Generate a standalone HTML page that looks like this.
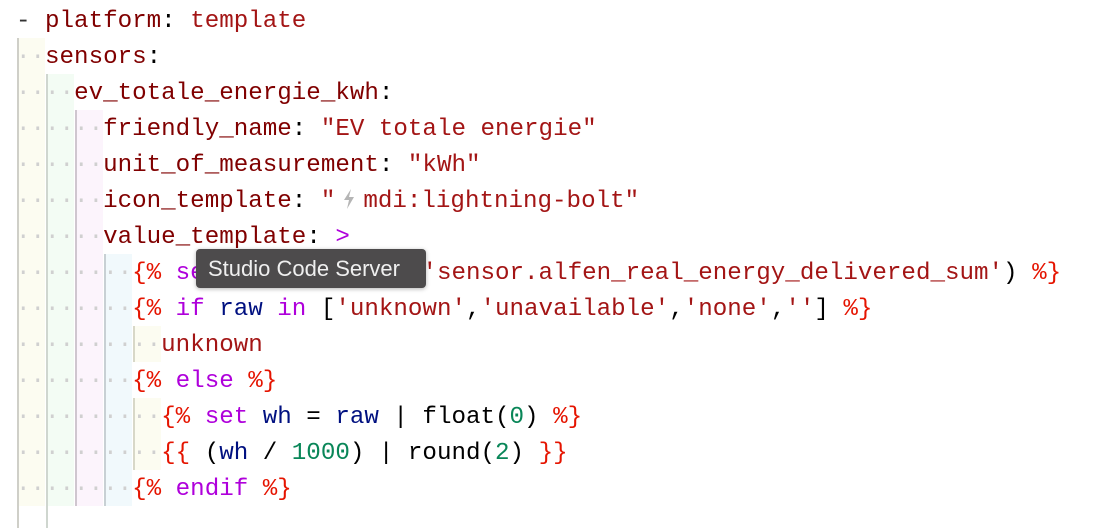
<!DOCTYPE html>
<html><head><meta charset="utf-8"><style>
html,body{margin:0;padding:0;background:#fff;width:1118px;height:528px;overflow:hidden;position:relative}
.b{position:absolute}
.g{position:absolute;width:1px;background:#d4d4d4}
.ln{position:absolute;left:16px;height:36px;line-height:36px;font-family:"Liberation Mono",monospace;font-size:24.2px;white-space:pre;color:#000}
.d{color:#d0d0d0}
.k{color:#800000}.s{color:#a31515}.j{color:#e51400}.w{color:#af00db}.v{color:#001080}.n{color:#098658}
.tip{position:absolute;left:196px;top:249px;width:230px;height:39px;background:#4d4b4c;border-radius:4px;color:#efefef;font-family:"Liberation Sans",sans-serif;font-size:22px;line-height:39px;padding-left:12px;box-sizing:border-box;box-shadow:0 1px 4px rgba(0,0,0,.3)}
</style></head><body>
<div class="b" style="left:17px;top:38px;width:28px;height:468px;background:#fcfcf1"></div>
<div class="b" style="left:46px;top:74px;width:28px;height:432px;background:#f3fcf4"></div>
<div class="b" style="left:75px;top:110px;width:28px;height:396px;background:#fcf4fc"></div>
<div class="b" style="left:104px;top:254px;width:28px;height:252px;background:#f1f9fc"></div>
<div class="b" style="left:133px;top:326px;width:28px;height:36px;background:#fcfcf1"></div>
<div class="b" style="left:133px;top:398px;width:28px;height:72px;background:#fcfcf1"></div>
<div class="g" style="left:17px;top:38px;height:490px;width:2px;background:#cfcfc8"></div>
<div class="g" style="left:46px;top:74px;height:454px;width:2px;background:#cfd6cf"></div>
<div class="g" style="left:75px;top:110px;height:396px;background:#cfc6cf;width:2px"></div>
<div class="g" style="left:104px;top:254px;height:252px;width:2px;background:#c8d0d4"></div>
<div class="g" style="left:133px;top:326px;height:36px;width:2px;background:#d8d8c8"></div>
<div class="g" style="left:133px;top:398px;height:72px;width:2px;background:#d8d8c8"></div>

<div class="ln" style="top:4px"><span style="color:#333">-</span> <span class="k">platform</span>: <span class="s">template</span></div>
<div class="ln" style="top:40px"><span class="d">··</span><span class="k">sensors</span>:</div>
<div class="ln" style="top:76px"><span class="d">····</span><span class="k">ev_totale_energie_kwh</span>:</div>
<div class="ln" style="top:112px"><span class="d">······</span><span class="k">friendly_name</span>: <span class="s">"EV totale energie"</span></div>
<div class="ln" style="top:148px"><span class="d">······</span><span class="k">unit_of_measurement</span>: <span class="s">"kWh"</span></div>
<div class="ln" style="top:184px"><span class="d">······</span><span class="k">icon_template</span>: <span class="s">"</span><span style="display:inline-block;width:28px;height:20px;vertical-align:-2px;text-align:center"><svg width="12" height="20" viewBox="0 0 12 20"><polygon points="8,0 1,11 6,11 4,20 11,8 6,8" fill="#b5b5b5"/></svg></span><span class="s">mdi:lightning-bolt"</span></div>
<div class="ln" style="top:220px"><span class="d">······</span><span class="k">value_template</span>: <span class="w">&gt;</span></div>
<div class="ln" style="top:256px"><span class="d">········</span><span class="j">{%</span> <span class="w">set</span> <span class="v">raw</span> = states(<span class="s">'sensor.alfen_real_energy_delivered_sum'</span>) <span class="j">%}</span></div>
<div class="ln" style="top:292px"><span class="d">········</span><span class="j">{%</span> <span class="w">if</span> <span class="v">raw</span> <span class="w">in</span> [<span class="s">'unknown'</span>,<span class="s">'unavailable'</span>,<span class="s">'none'</span>,<span class="s">''</span>] <span class="j">%}</span></div>
<div class="ln" style="top:328px"><span class="d">··········</span><span class="s">unknown</span></div>
<div class="ln" style="top:364px"><span class="d">········</span><span class="j">{%</span> <span class="w">else</span> <span class="j">%}</span></div>
<div class="ln" style="top:400px"><span class="d">··········</span><span class="j">{%</span> <span class="w">set</span> <span class="v">wh</span> = <span class="v">raw</span> | float(<span class="n">0</span>) <span class="j">%}</span></div>
<div class="ln" style="top:436px"><span class="d">··········</span><span class="j">{{</span> (<span class="v">wh</span> / <span class="n">1000</span>) | round(<span class="n">2</span>) <span class="j">}}</span></div>
<div class="ln" style="top:472px"><span class="d">········</span><span class="j">{%</span> <span class="w">endif</span> <span class="j">%}</span></div>

<div class="tip">Studio Code Server</div>
</body></html>
